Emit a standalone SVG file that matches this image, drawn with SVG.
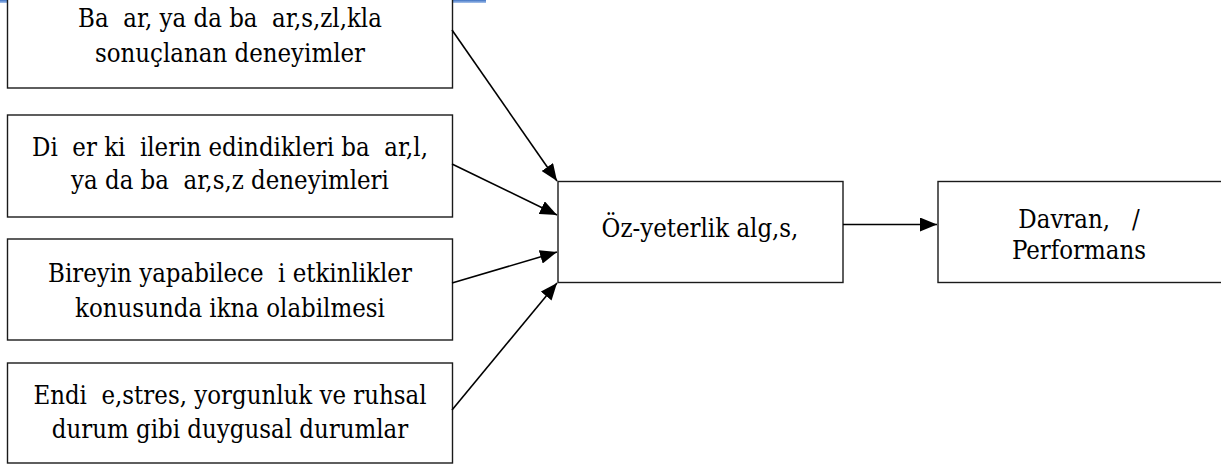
<svg xmlns="http://www.w3.org/2000/svg" width="1221" height="465" viewBox="0 0 1221 465">
<style>
.box{fill:#fff;stroke:#1a1a1a;stroke-width:1.4}
.t{font-family:'DejaVu Serif Condensed','DejaVu Serif','Liberation Serif',serif;font-stretch:condensed;font-size:25.5px;fill:#000;text-anchor:middle}
.c{stroke:#000;stroke-width:1.6;fill:none;marker-end:url(#ah)}
</style>
<defs>
<marker id="ah" markerUnits="userSpaceOnUse" markerWidth="18" markerHeight="14" refX="17" refY="7" orient="auto">
<path d="M0,0 L17,7 L0,14 Z" fill="#000"/>
</marker>
<linearGradient id="bl" x1="0" y1="0" x2="0" y2="1">
<stop offset="0" stop-color="#3f73c4"/>
<stop offset="1" stop-color="#a9c4ec"/>
</linearGradient>
</defs>
<rect width="1221" height="465" fill="#fff"/>
<rect x="0" y="0" width="486" height="3" fill="url(#bl)"/>
<g id="n1">
<rect class="box" x="7.5" y="-15" width="445" height="103"/>
<text class="t" xml:space="preserve" x="230" y="27">Ba  ar, ya da ba  ar,s,zl,kla</text>
<text class="t" x="230" y="62">sonuçlanan deneyimler</text>
</g>
<g id="n2">
<rect class="box" x="7.5" y="115" width="445" height="102"/>
<text class="t" xml:space="preserve" x="230" y="156">Di  er ki  ilerin edindikleri ba  ar,l,</text>
<text class="t" xml:space="preserve" x="230" y="189">ya da ba  ar,s,z deneyimleri</text>
</g>
<g id="n3">
<rect class="box" x="7.5" y="239" width="445" height="101"/>
<text class="t" xml:space="preserve" x="230" y="282">Bireyin yapabilece  i etkinlikler</text>
<text class="t" x="230" y="317">konusunda ikna olabilmesi</text>
</g>
<g id="n4">
<rect class="box" x="7.5" y="363" width="445" height="100"/>
<text class="t" xml:space="preserve" x="230" y="404">Endi  e,stres, yorgunluk ve ruhsal</text>
<text class="t" x="230" y="438">durum gibi duygusal durumlar</text>
</g>
<g id="n5">
<rect class="box" x="558" y="181.5" width="285" height="101"/>
<text class="t" x="700" y="237">Öz-yeterlik alg,s,</text>
</g>
<g id="n6">
<rect class="box" x="938" y="181.5" width="284" height="101"/>
<text class="t" xml:space="preserve" x="1079" y="228">Davran,   /</text>
<text class="t" x="1079" y="259">Performans</text>
</g>
<g id="connectors">
<line class="c" x1="452" y1="30" x2="557" y2="181"/>
<line class="c" x1="452" y1="164" x2="557" y2="215"/>
<line class="c" x1="452" y1="283" x2="557" y2="252"/>
<line class="c" x1="452" y1="410" x2="557" y2="283"/>
<line class="c" x1="843" y1="224.5" x2="937" y2="224.5"/>
</g>
</svg>
